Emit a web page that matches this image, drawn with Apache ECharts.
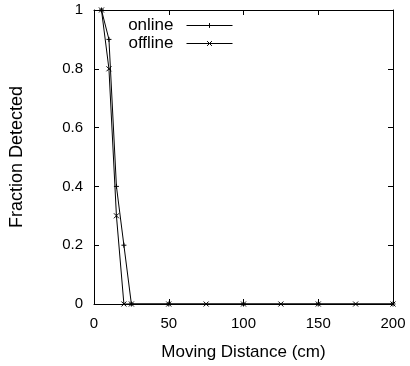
<!DOCTYPE html>
<html>
<head>
    <meta charset="UTF-8" />
    <title>Fraction Detected</title>
    <script src="https://cdn.jsdelivr.net/npm/echarts@6/dist/echarts.min.js"></script>
    <style>
        body { margin: 0; background: #fff; }
        #main { width: 410px; height: 366px; }
    </style>
</head>
<body>
    <div id="main"></div>
    <script>
    // distances (cm) and detected fractions
    var onlineX = [5, 10, 15, 20, 25, 50, 100, 150, 200];
    var onlineY = [1, 0.9, 0.4, 0.2, 0, 0, 0, 0, 0];
    var offlineX = [5, 10, 15, 20, 25, 50, 75, 100, 125, 150, 175, 200];
    var offlineY = [1, 0.8, 0.3, 0, 0, 0, 0, 0, 0, 0, 0, 0];
    var xTicks = [0, 50, 100, 150, 200];
    var yTicks = [0, 0.2, 0.4, 0.6, 0.8, 1];

    var font = 'Liberation Sans, Arial, sans-serif';
    var plusPath = 'path://M0,5L10,5M5,0L5,10';
    var crossPath = 'path://M0,0L10,10M0,10L10,0';

    function pairs(xs, ys) {
        var out = [];
        for (var i = 0; i < xs.length; i++) out.push([xs[i], ys[i]]);
        return out;
    }

    var frameX = {
        type: 'value', min: xTicks[0], max: xTicks[xTicks.length - 1], interval: 50,
        axisLine: { show: true, onZero: false, lineStyle: { color: '#000', width: 1 } },
        axisTick: { show: true, inside: true, length: 5, lineStyle: { color: '#000' } },
        splitLine: { show: false }
    };
    var frameY = {
        type: 'value', min: yTicks[0], max: yTicks[yTicks.length - 1], interval: 0.2,
        axisLine: { show: true, onZero: false, lineStyle: { color: '#000', width: 1 } },
        axisTick: { show: true, inside: true, length: 5, lineStyle: { color: '#000' } },
        splitLine: { show: false }
    };

    function legendBox(name, top) {
        return {
            data: [name], right: 172, top: top,
            itemWidth: 46, itemHeight: 6,
            align: 'right',
            lineStyle: { width: 1, color: '#000' },
            itemStyle: { borderWidth: 1, borderColor: '#000' },
            textStyle: { fontFamily: font, fontSize: 17, color: '#000', padding: [0, 8, 0, 0] }
        };
    }

    var myChart = echarts.init(document.getElementById('main'));
    myChart.setOption({
        animation: false,
        backgroundColor: '#fff',
        grid: { left: 91, right: 17, top: 10, bottom: 60 },
        legend: [legendBox('online', 12), legendBox('offline', 30)],
        xAxis: [
            Object.assign({}, frameX, {
                position: 'bottom',
                name: 'Moving Distance (cm)', nameLocation: 'middle', nameGap: 40,
                nameTextStyle: { fontFamily: font, fontSize: 17, color: '#000' },
                axisLabel: { fontFamily: font, fontSize: 15, color: '#000', margin: 12 }
            }),
            Object.assign({}, frameX, { position: 'top', axisLabel: { show: false } })
        ],
        yAxis: [
            Object.assign({}, frameY, {
                position: 'left',
                name: 'Fraction Detected', nameLocation: 'middle', nameGap: 68,
                nameTextStyle: { fontFamily: font, fontSize: 18, color: '#000' },
                axisLabel: { fontFamily: font, fontSize: 15, color: '#000', margin: 11 }
            }),
            Object.assign({}, frameY, { position: 'right', axisLabel: { show: false } })
        ],
        series: [{
            name: 'online', type: 'line',
            data: pairs(onlineX, onlineY),
            symbol: plusPath, symbolSize: 5, showAllSymbol: true,
            lineStyle: { color: '#000', width: 1 },
            itemStyle: { color: '#000', borderColor: '#000', borderWidth: 1 }
        }, {
            name: 'offline', type: 'line',
            data: pairs(offlineX, offlineY),
            symbol: crossPath, symbolSize: 5, showAllSymbol: true,
            lineStyle: { color: '#000', width: 1 },
            itemStyle: { color: '#000', borderColor: '#000', borderWidth: 1 }
        }]
    });
    </script>
</body>
</html>
